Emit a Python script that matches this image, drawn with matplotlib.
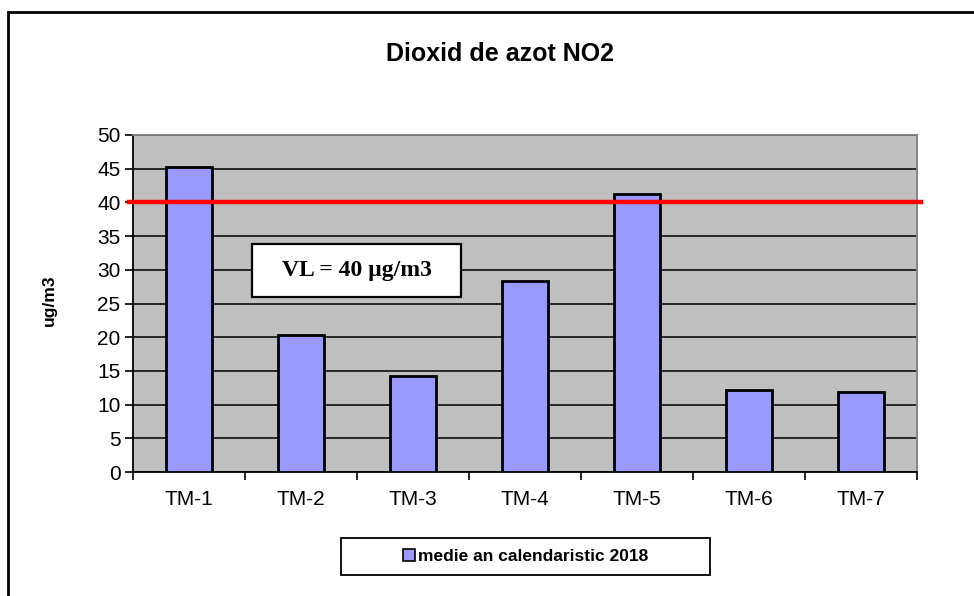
import matplotlib
matplotlib.use("Agg")
import matplotlib.pyplot as plt
from matplotlib.patches import Rectangle
from matplotlib.lines import Line2D

plt.rcParams["font.family"] = ["Liberation Sans", "DejaVu Sans"]

# data
stations = ["TM-1", "TM-2", "TM-3", "TM-4", "TM-5", "TM-6", "TM-7"]
no2_mean = [45.2, 20.4, 14.3, 28.4, 41.2, 12.1, 11.8]
limit_value = 40
y_ticks = [0, 5, 10, 15, 20, 25, 30, 35, 40, 45, 50]
series_label = "medie an calendaristic 2018"

fig = plt.figure(figsize=(9.74, 5.96), dpi=100)
ax = fig.add_axes([0.1366, 0.208, 0.805, 0.5655])

# outer chart border (clipped at right/bottom as in the source)
fig.patches.append(Rectangle((7.5 / 974, -0.1), 1.2, (596 - 11.5) / 596 + 0.1,
                             transform=fig.transFigure, fill=False,
                             edgecolor="black", linewidth=2))

ax.set_facecolor("#C0C0C0")
x = list(range(len(stations)))
ax.bar(x, no2_mean, width=0.41, color="#9999FF", edgecolor="black",
       linewidth=2, zorder=3)

ax.set_xlim(-0.5, len(stations) - 0.5)
ax.set_ylim(0, 50)
ax.set_yticks(y_ticks)
ax.yaxis.grid(True, color="black", linewidth=1.1, zorder=1)
ax.set_axisbelow(True)

# x ticks at category edges, labels at centres
ax.set_xticks([i - 0.5 for i in range(len(stations) + 1)])
ax.set_xticklabels([])
ax.set_xticks(x, minor=True)
ax.set_xticklabels(stations, minor=True)
ax.tick_params(axis="x", which="major", direction="out", length=6, width=1.2)
ax.tick_params(axis="x", which="minor", length=0, pad=13, labelsize=15)
ax.tick_params(axis="y", direction="out", length=6, width=1.2, labelsize=15, pad=3)

for s in ["left", "bottom"]:
    ax.spines[s].set_color("black")
    ax.spines[s].set_linewidth(1.3)
for s in ["top", "right"]:
    ax.spines[s].set_color("#808080")
    ax.spines[s].set_linewidth(1.3)

# limit value line
ax.axhline(limit_value, xmin=-0.005, xmax=1.005, color="#FF0000", linewidth=3.2,
           clip_on=False, zorder=5)

# VL label box
ax.add_patch(Rectangle((0.152, 0.519), 0.2666, 0.157, transform=ax.transAxes,
                       facecolor="white", edgecolor="black", linewidth=1.6, zorder=6))
ax.text(0.152 + 0.1333, 0.519 + 0.0785, f"VL = {limit_value} µg/m3",
        transform=ax.transAxes, ha="center", va="center", fontsize=17,
        fontweight="bold", family=["Liberation Serif", "DejaVu Serif"], zorder=7)

fig.text(0.5134, 0.91, "Dioxid de azot NO2", ha="center", va="center",
         fontsize=18, fontweight="bold")
fig.text(0.051, 0.497, "ug/m3", rotation=90, ha="center", va="center",
         fontsize=12.5, fontweight="bold")

# legend box
fig.patches.append(Rectangle((341 / 974, (596 - 575) / 596), 369 / 974, 37 / 596,
                             transform=fig.transFigure, facecolor="white",
                             edgecolor="black", linewidth=1.3))
handle = Line2D([], [], marker="s", linestyle="none", markersize=8,
                markerfacecolor="#9999FF", markeredgecolor="black", markeredgewidth=1.2)
leg = fig.legend([handle], [series_label], loc="center",
                 bbox_to_anchor=(0.5395, 0.066), frameon=False,
                 prop={"weight": "bold", "size": 12.5},
                 handletextpad=0.1, handlelength=0.8)

fig.savefig("out.png", dpi=100)
